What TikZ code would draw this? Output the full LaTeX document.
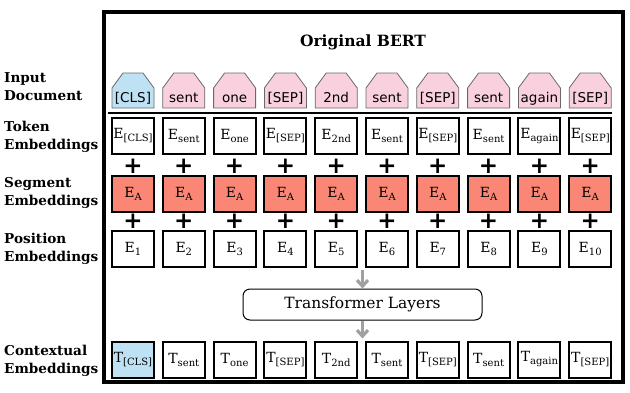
\documentclass[tikz,border=0pt]{standalone}
\usepackage{fontspec}
\setmainfont{DejaVu Serif}
\newfontfamily\toksans{DejaVu Sans}
\usetikzlibrary{arrows.meta, positioning, calc}
\definecolor{clsblue}{RGB}{190,225,244}
\definecolor{tokpink}{RGB}{249,208,222}
\definecolor{segred}{RGB}{250,135,118}
\definecolor{tokgray}{RGB}{105,105,105}
\definecolor{arrowgray}{RGB}{160,160,160}
\newcommand{\emb}[2]{#1\raisebox{-3pt}{\fontsize{10}{10}\selectfont #2}}
\tikzset{
  embbox/.style={rectangle, draw, line width=2pt, minimum width=42pt,
    minimum height=36pt, inner sep=0pt, font=\fontsize{14}{14}\selectfont},
  segbox/.style={embbox, fill=segred},
  rowlabel/.style={anchor=west, align=left, inner sep=0pt,
    font=\fontsize{13.6}{18}\selectfont\bfseries},
  plussign/.style={inner sep=0pt, font=\fontsize{23}{23}\selectfont\bfseries\toksans},
  toktext/.style={anchor=base, inner sep=0pt, font=\fontsize{13.5}{13.5}\selectfont\toksans},
  grayarrow/.style={-{Straight Barb[length=6pt, width=11pt]}, line width=3.2pt, color=arrowgray},
  layerbox/.style={rectangle, rounded corners=7pt, draw, line width=1pt,
    minimum width=239pt, minimum height=31pt, font=\fontsize{15.5}{15.5}\selectfont},
}

\begin{document}
\begin{tikzpicture}[x=1pt, y=-1pt]

  \useasboundingbox (0,0) rectangle (630,392);

  %% Frame and title
  \draw[line width=3.5pt] (104,12) rectangle (623,382);
  \node[font=\fontsize{15.5}{15.5}\selectfont\bfseries] (title) at (363,42) {Original BERT};

  %% Row labels
  \node[rowlabel] (lblin)  at (4,87)  {Input\\Document};
  \node[rowlabel] (lbltok) at (4,137) {Token\\Embeddings};
  \node[rowlabel] (lblseg) at (4,193) {Segment\\Embeddings};
  \node[rowlabel] (lblpos) at (4,249) {Position\\Embeddings};
  \node[rowlabel] (lblctx) at (4,361) {Contextual\\Embeddings};

  %% Input tokens and embeddings, one column each
  \foreach \i/\t/\c/\f in {1/[CLS]/clsblue/clsblue, 2/sent/tokpink/white,
      3/one/tokpink/white, 4/[SEP]/tokpink/white, 5/2nd/tokpink/white,
      6/sent/tokpink/white, 7/[SEP]/tokpink/white, 8/sent/tokpink/white,
      9/again/tokpink/white, 10/[SEP]/tokpink/white} {
    \pgfmathsetmacro\x{133+(\i-1)*50.8}
    \filldraw[draw=tokgray, fill=\c, line width=0.8pt]
      (\x-21,108) -- (\x-21,88) -- (\x-10,73) -- (\x+10,73)
      -- (\x+21,88) -- (\x+21,108) -- cycle;
    \node[toktext] (in\i) at (\x,102.5) {\t};
    \node[embbox] (tok\i) at (\x,136) {\emb{E}{\t}};
    \node[plussign] (plusa\i) at (\x,166) {+};
    \node[segbox] (seg\i) at (\x,193.5) {\emb{E}{A}};
    \node[plussign] (plusb\i) at (\x,221.5) {+};
    \node[embbox] (pos\i) at (\x,248.5) {\emb{E}{\i}};
    \node[embbox, fill=\f] (ctx\i) at (\x,359.5) {\emb{T}{\t}};
  }

  \draw[line width=2pt] (108,113) -- (612,113);

  %% Transformer
  \node[layerbox] (layers) at (362.5,304.5) {Transformer Layers};
  \draw[grayarrow] ([yshift=-2pt]layers.north |- pos1.south) -- (layers.north);
  \draw[grayarrow] (layers.south) -- ([yshift=2pt]layers.south |- ctx1.north);

\end{tikzpicture}
\end{document}
